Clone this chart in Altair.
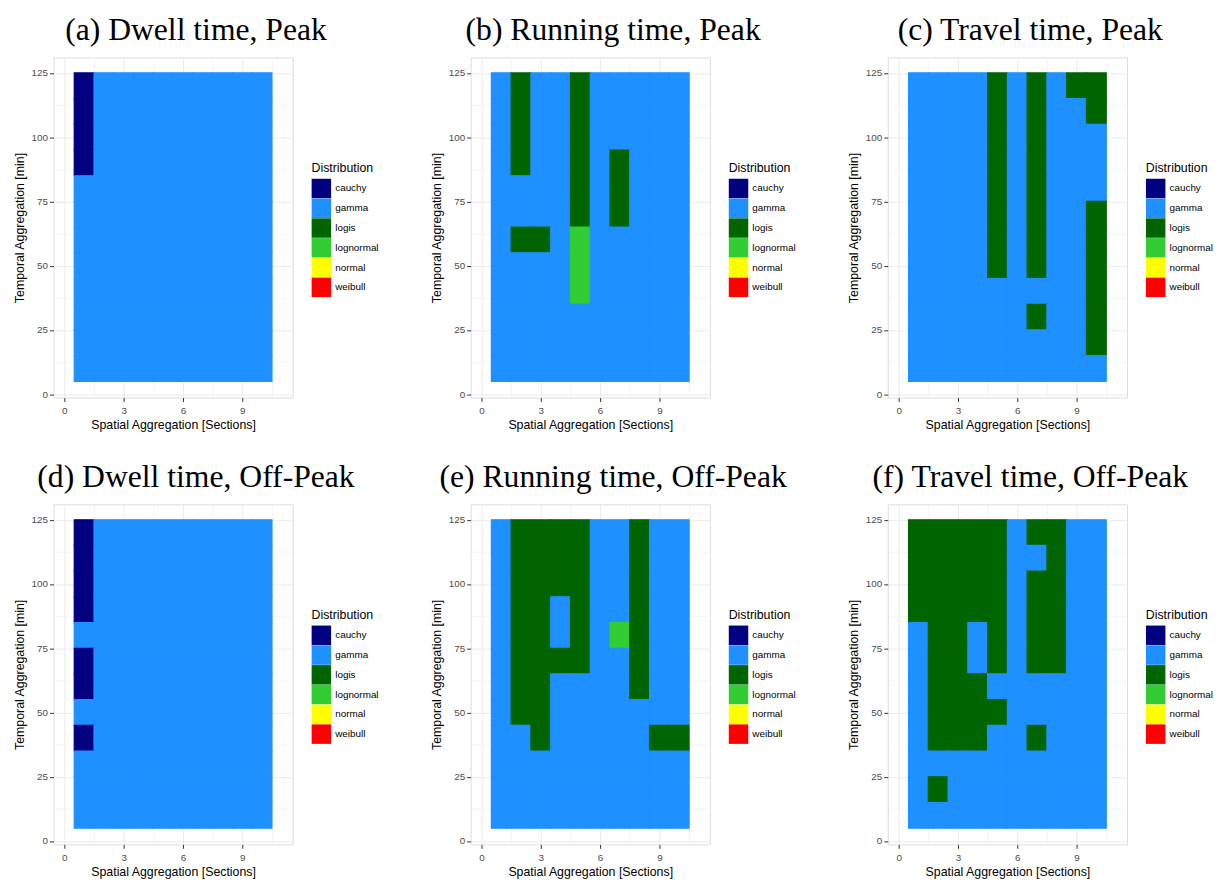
import altair as alt
import pandas as pd

# ---- data -----------------------------------------------------------------
DISTRIBUTIONS = ["cauchy", "gamma", "logis", "lognormal", "normal", "weibull"]
COLORS = ["#000080", "#1E90FF", "#006400", "#32CD32", "#FFFF00", "#FF0000"]
CODE = {"C": "cauchy", "G": "gamma", "L": "logis", "N": "lognormal",
        "O": "normal", "W": "weibull"}

SPATIAL = [1, 2, 3, 4, 5, 6, 7, 8, 9, 10]                     # sections
TEMPORAL = [120, 110, 100, 90, 80, 70, 60, 50, 40, 30, 20, 10]  # minutes (rows top->bottom)

# best-fitting distribution per cell, one string per temporal row, one letter per section
dwell_peak = [
    "CGGGGGGGGG", "CGGGGGGGGG", "CGGGGGGGGG", "CGGGGGGGGG",
    "GGGGGGGGGG", "GGGGGGGGGG", "GGGGGGGGGG", "GGGGGGGGGG",
    "GGGGGGGGGG", "GGGGGGGGGG", "GGGGGGGGGG", "GGGGGGGGGG",
]
running_peak = [
    "GLGGLGGGGG", "GLGGLGGGGG", "GLGGLGGGGG", "GLGGLGLGGG",
    "GGGGLGLGGG", "GGGGLGLGGG", "GLLGNGGGGG", "GGGGNGGGGG",
    "GGGGNGGGGG", "GGGGGGGGGG", "GGGGGGGGGG", "GGGGGGGGGG",
]
travel_peak = [
    "GGGGLGLGLL", "GGGGLGLGGL", "GGGGLGLGGG", "GGGGLGLGGG",
    "GGGGLGLGGG", "GGGGLGLGGL", "GGGGLGLGGL", "GGGGLGLGGL",
    "GGGGGGGGGL", "GGGGGGLGGL", "GGGGGGGGGL", "GGGGGGGGGG",
]
dwell_offpeak = [
    "CGGGGGGGGG", "CGGGGGGGGG", "CGGGGGGGGG", "CGGGGGGGGG",
    "GGGGGGGGGG", "CGGGGGGGGG", "CGGGGGGGGG", "GGGGGGGGGG",
    "CGGGGGGGGG", "GGGGGGGGGG", "GGGGGGGGGG", "GGGGGGGGGG",
]
running_offpeak = [
    "GLLLLGGLGG", "GLLLLGGLGG", "GLLLLGGLGG", "GLLGLGGLGG",
    "GLLGLGNLGG", "GLLLLGGLGG", "GLLGGGGLGG", "GLLGGGGGGG",
    "GGLGGGGGLL", "GGGGGGGGGG", "GGGGGGGGGG", "GGGGGGGGGG",
]
travel_offpeak = [
    "LLLLLGLLGG", "LLLLLGGLGG", "LLLLLGLLGG", "LLLLLGLLGG",
    "GLLGLGLLGG", "GLLGLGLLGG", "GLLLGGGGGG", "GLLLLGGGGG",
    "GLLLGGLGGG", "GGGGGGGGGG", "GLGGGGGGGG", "GGGGGGGGGG",
]

PANELS = [
    ("(a) Dwell time, Peak", dwell_peak),
    ("(b) Running time, Peak", running_peak),
    ("(c) Travel time, Peak", travel_peak),
    ("(d) Dwell time, Off-Peak", dwell_offpeak),
    ("(e) Running time, Off-Peak", running_offpeak),
    ("(f) Travel time, Off-Peak", travel_offpeak),
]

X_TICKS = [0, 1.5, 3, 4.5, 6, 7.5, 9, 10.5]
Y_TICKS = [0, 12.5, 25, 37.5, 50, 62.5, 75, 87.5, 100, 112.5, 125]

SANS = "Liberation Sans"
SERIF = "Liberation Serif"
PW, PH = 242, 344


def make_panel(title, grid):
    rows = []
    for t, line in zip(TEMPORAL, grid):
        for s, c in zip(SPATIAL, line):
            rows.append({"spatial": s, "temporal": t, "dist": CODE[c]})
    df = pd.DataFrame(rows)

    common = dict(
        labelOverlap=False, labelFlush=False, domain=False,
        tickColor="#333333", tickSize=4, gridColor="#ebebeb",
        labelFont=SANS, labelFontSize=10, labelColor="#4d4d4d",
        titleFont=SANS, titleFontSize=12.5, titleFontWeight="normal",
        titleColor="black",
    )
    x_axis = alt.Axis(
        title="Spatial Aggregation [Sections]",
        values=X_TICKS,
        labelExpr="datum.value % 3 === 0 ? datum.label : ''",
        tickOpacity={"condition": {"test": "datum.value % 3 === 0", "value": 1}, "value": 0},
        gridWidth={"condition": {"test": "datum.value % 3 === 0", "value": 1}, "value": 0.5},
        labelPadding=4, titlePadding=3,
        **common,
    )
    y_axis = alt.Axis(
        title="Temporal Aggregation [min]",
        values=Y_TICKS,
        labelExpr="datum.value % 25 === 0 ? datum.label : ''",
        tickOpacity={"condition": {"test": "datum.value % 25 === 0", "value": 1}, "value": 0},
        gridWidth={"condition": {"test": "datum.value % 25 === 0", "value": 1}, "value": 0.5},
        labelPadding=2, titlePadding=5,
        **common,
    )
    legend = alt.Legend(
        title="Distribution", orient="none", legendX=PW + 19, legendY=106,
        symbolType="square", symbolSize=388, symbolStrokeWidth=0, symbolOpacity=1,
        rowPadding=0, padding=0, labelOffset=4,
        labelFont=SANS, labelFontSize=10, labelColor="black",
        titleFont=SANS, titleFontSize=12.5, titleFontWeight="normal",
        titleColor="black", titlePadding=4,
    )
    dist_scale = alt.Scale(domain=DISTRIBUTIONS, range=COLORS)

    return (
        alt.Chart(df)
        .transform_calculate(
            s0="datum.spatial - 0.5", s1="datum.spatial + 0.5",
            t0="datum.temporal - 5", t1="datum.temporal + 5",
        )
        .mark_rect(strokeWidth=1.2)
        .encode(
            x=alt.X("s0:Q", scale=alt.Scale(domain=[-0.55, 11.55], nice=False, zero=False), axis=x_axis),
            x2="s1:Q",
            y=alt.Y("t0:Q", scale=alt.Scale(domain=[-1.3, 131], nice=False, zero=False), axis=y_axis),
            y2="t1:Q",
            color=alt.Color("dist:N", scale=dist_scale, legend=legend),
            stroke=alt.Stroke("dist:N", scale=dist_scale, legend=None),
        )
        .properties(
            width=PW, height=PH,
            title=alt.TitleParams(
                text=title, font=SERIF, fontSize=32, fontWeight="normal",
                color="black", anchor="middle", frame="bounds", offset=11,
            ),
        )
    )


charts = [make_panel(t, g) for t, g in PANELS]


def row(cs):
    return (
        alt.hconcat(*cs, spacing=50)
        .resolve_scale(color="independent", stroke="independent")
        .resolve_legend(color="independent", stroke="independent")
    )


chart = (
    alt.vconcat(row(charts[:3]), row(charts[3:]), spacing=29)
    .resolve_scale(color="independent", stroke="independent")
    .resolve_legend(color="independent", stroke="independent")
    .properties(padding={"left": 4, "top": 0, "right": 0, "bottom": 0})
    .configure_view(stroke="#999999", strokeWidth=1, fill="white")
    .configure(background="white")
)

chart.save("out.html", embed_options={"renderer": "svg", "actions": False})
